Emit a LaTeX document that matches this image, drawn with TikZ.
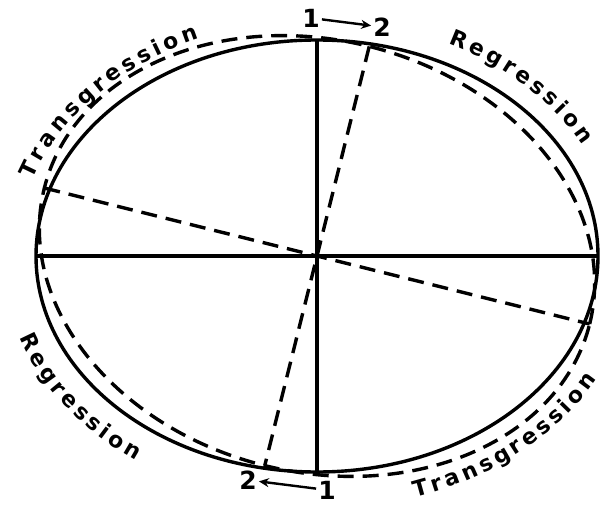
\documentclass[tikz,border=0pt]{standalone}
\usepackage{fontspec}
\newfontfamily\handfont{DejaVu Sans}
\usetikzlibrary{arrows.meta,calc,decorations.text}

\begin{document}
\begin{tikzpicture}[
    x=1pt, y=1pt,
    solidline/.style={draw=black, line width=3.4pt},
    dashline/.style={draw=black, line width=3.4pt, dash pattern=on 16pt off 9pt},
    digit/.style={font=\handfont\bfseries\fontsize{25}{25}\selectfont, inner sep=2pt},
    shiftarrow/.style={draw=black, line width=2.4pt, -{Stealth[length=10pt,width=9pt]}},
    curvedlabel/.style={postaction={decorate}, decoration={text along path, text align=fit to path, text={|\handfont\bfseries\fontsize{22}{22}\selectfont|#1}}}
]
\useasboundingbox (0,0) rectangle (601,504);
\coordinate (C) at (317,248);
\coordinate (N) at ($(C)+(0,216)$);
\coordinate (S) at ($(C)+(0,-216)$);
\coordinate (W) at ($(C)+(-281,0)$);
\coordinate (E) at ($(C)+(281,0)$);
\coordinate (tN) at ($(C)+(76:216)$);
\coordinate (tS) at ($(C)+(256:216)$);
\coordinate (tW) at ($(C)+(166:281)$);
\coordinate (tE) at ($(C)+(-14:281)$);

\draw[solidline] (C) ellipse[x radius=281, y radius=216];
\draw[solidline] (N) -- (S);
\draw[solidline] (W) -- (E);

\draw[dashline, rotate around={-14:(C)}] (C) ellipse[x radius=281, y radius=216];
\draw[dashline] (tN) -- (tS);
\draw[dashline] (tW) -- (tE);

\node[digit] (top1) at (311,486) {1};
\node[digit] (top2) at (382,477) {2};
\draw[shiftarrow] (top1) -- (top2);
\node[digit] (bot1) at (327,14) {1};
\node[digit] (bot2) at (248,24) {2};
\draw[shiftarrow] (bot1) -- (bot2);

\path[curvedlabel=Transgression] (C) ++(161:301 and 236) arc[start angle=161, end angle=113, x radius=301, y radius=236];
\path[curvedlabel=Regression] (C) ++(64:301 and 236) arc[start angle=64, end angle=28, x radius=301, y radius=236];
\path[curvedlabel=Regression] (C) ++(199:315 and 250) arc[start angle=199, end angle=235, x radius=315, y radius=250];
\path[curvedlabel=Transgression] (C) ++(288:320 and 254) arc[start angle=288, end angle=331, x radius=320, y radius=254];
\end{tikzpicture}
\end{document}
